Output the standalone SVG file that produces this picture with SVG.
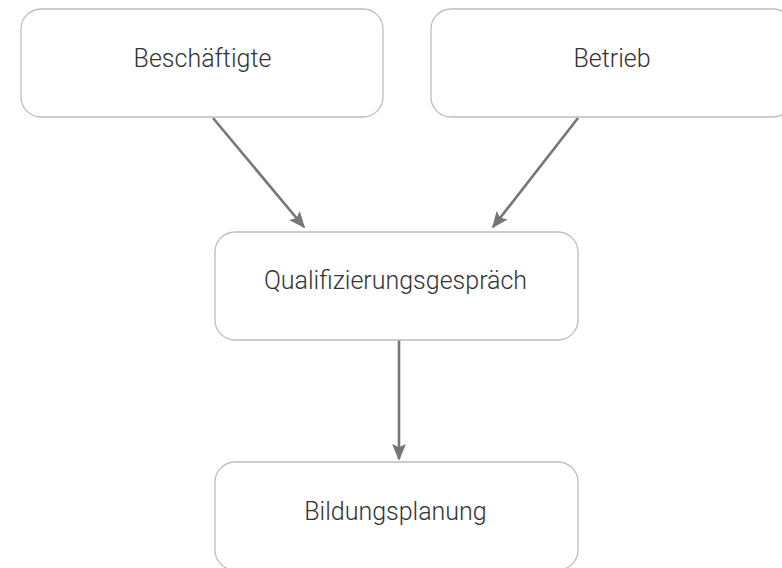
<svg xmlns="http://www.w3.org/2000/svg" width="782" height="568" viewBox="0 0 782 568">
<defs>
<style>
.box{fill:#fff;stroke:#bdbdbd;stroke-width:1.3}
.lbl{font-family:Roboto,"Liberation Sans",sans-serif;font-weight:300;font-size:25px;fill:#333;text-anchor:middle}
.edge{stroke:#767676;stroke-width:2.6;fill:none}
</style>
<marker id="ah" viewBox="0 0 10 10" refX="9" refY="5" markerWidth="6.4" markerHeight="6.4" orient="auto" markerUnits="strokeWidth">
<path d="M0,0.8 L10,5 L0,9.2 L2,5 Z" fill="#767676"/>
</marker>
</defs>
<rect width="782" height="568" fill="#fff"/>
<g id="edges">
<line class="edge" x1="213" y1="118" x2="304" y2="227" marker-end="url(#ah)"/>
<line class="edge" x1="578" y1="118" x2="493" y2="227" marker-end="url(#ah)"/>
<line class="edge" x1="399" y1="340" x2="399" y2="459" marker-end="url(#ah)"/>
</g>
<g id="n1">
<rect class="box" x="21" y="9" width="362" height="108" rx="20"/>
<text class="lbl" x="202.5" y="67">Beschäftigte</text>
</g>
<g id="n2">
<rect class="box" x="431" y="9" width="362" height="108" rx="20"/>
<text class="lbl" x="612" y="67">Betrieb</text>
</g>
<g id="n3">
<rect class="box" x="215" y="232" width="363" height="108" rx="20"/>
<text class="lbl" x="395.5" y="289">Qualifizierungsgespräch</text>
</g>
<g id="n4">
<rect class="box" x="215" y="462" width="363" height="108" rx="20"/>
<text class="lbl" x="395.5" y="520">Bildungsplanung</text>
</g>
</svg>
